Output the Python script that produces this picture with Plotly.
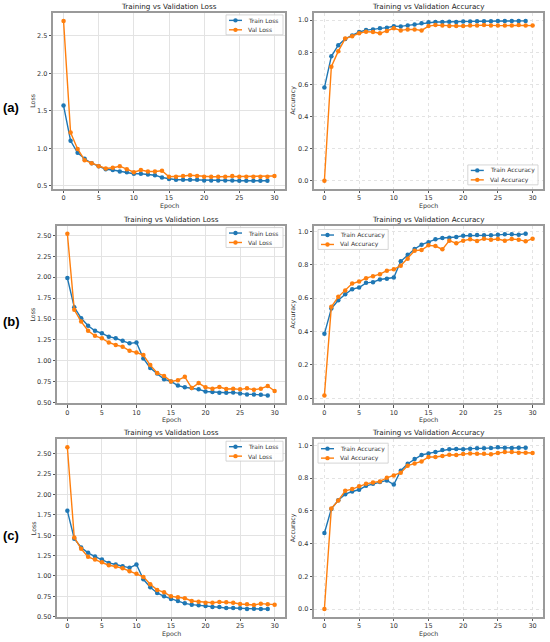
import plotly.graph_objects as go

# ---- data ----
train_epochs = list(range(30))
val_epochs = list(range(31))

train_loss_a = [1.57, 1.10, 0.94, 0.86, 0.80, 0.76, 0.72, 0.71, 0.69, 0.68, 0.66, 0.66, 0.65, 0.64, 0.61, 0.59,
                0.58, 0.58, 0.58, 0.58, 0.57, 0.57, 0.57, 0.57, 0.57, 0.565, 0.565, 0.565, 0.565, 0.565]
val_loss_a = [2.70, 1.21, 0.99, 0.84, 0.80, 0.76, 0.73, 0.74, 0.76, 0.72, 0.68, 0.71, 0.69, 0.69, 0.70, 0.62,
              0.62, 0.63, 0.64, 0.63, 0.62, 0.62, 0.62, 0.62, 0.63, 0.62, 0.62, 0.62, 0.62, 0.62, 0.63]
train_acc_a = [0.58, 0.775, 0.844, 0.883, 0.905, 0.926, 0.938, 0.942, 0.95, 0.953, 0.962, 0.961, 0.967, 0.972, 0.981,
               0.986, 0.988, 0.988, 0.99, 0.988, 0.992, 0.992, 0.993, 0.993, 0.993, 0.995, 0.995, 0.995, 0.995, 0.995]
val_acc_a = [0.0, 0.71, 0.807, 0.885, 0.90, 0.918, 0.928, 0.926, 0.918, 0.932, 0.949, 0.936, 0.942, 0.942, 0.936,
             0.963, 0.969, 0.967, 0.963, 0.963, 0.963, 0.967, 0.967, 0.969, 0.966, 0.966, 0.966, 0.967, 0.969,
             0.967, 0.966]

train_loss_b = [1.99, 1.64, 1.51, 1.42, 1.36, 1.33, 1.29, 1.27, 1.24, 1.21, 1.22, 1.03, 0.915, 0.85, 0.78, 0.755,
                0.705, 0.685, 0.675, 0.66, 0.635, 0.628, 0.62, 0.62, 0.624, 0.612, 0.60, 0.60, 0.596, 0.588]
val_loss_b = [2.52, 1.61, 1.47, 1.36, 1.30, 1.27, 1.22, 1.19, 1.17, 1.12, 1.10, 1.07, 0.95, 0.855, 0.82, 0.755,
              0.77, 0.81, 0.675, 0.735, 0.685, 0.668, 0.688, 0.664, 0.668, 0.66, 0.672, 0.656, 0.668, 0.70, 0.64]
train_acc_b = [0.385, 0.537, 0.587, 0.623, 0.653, 0.663, 0.691, 0.695, 0.711, 0.715, 0.723, 0.82, 0.86, 0.894, 0.92,
               0.934, 0.952, 0.96, 0.962, 0.966, 0.974, 0.976, 0.978, 0.976, 0.976, 0.98, 0.982, 0.982, 0.98, 0.986]
val_acc_b = [0.016, 0.547, 0.607, 0.645, 0.687, 0.699, 0.719, 0.731, 0.743, 0.764, 0.772, 0.794, 0.836, 0.884, 0.888,
             0.916, 0.912, 0.892, 0.944, 0.928, 0.944, 0.952, 0.942, 0.956, 0.95, 0.954, 0.944, 0.954, 0.95,
             0.94, 0.956]

train_loss_c = [1.80, 1.457, 1.35, 1.284, 1.239, 1.202, 1.161, 1.141, 1.12, 1.10, 1.141, 0.96, 0.861, 0.792, 0.75,
                0.718, 0.693, 0.664, 0.648, 0.64, 0.631, 0.619, 0.619, 0.607, 0.607, 0.603, 0.594, 0.599, 0.594, 0.594]
val_loss_c = [2.58, 1.473, 1.334, 1.235, 1.202, 1.17, 1.132, 1.116, 1.095, 1.059, 1.026, 0.989, 0.898, 0.829, 0.80,
              0.75, 0.738, 0.726, 0.693, 0.685, 0.672, 0.672, 0.681, 0.677, 0.672, 0.656, 0.652, 0.644, 0.66,
              0.652, 0.648]
train_acc_c = [0.465, 0.612, 0.665, 0.702, 0.718, 0.729, 0.753, 0.765, 0.776, 0.786, 0.761, 0.845, 0.888, 0.916,
               0.941, 0.951, 0.959, 0.971, 0.976, 0.978, 0.976, 0.98, 0.982, 0.982, 0.984, 0.988, 0.986, 0.984,
               0.986, 0.986]
val_acc_c = [0.0, 0.614, 0.663, 0.722, 0.733, 0.751, 0.765, 0.773, 0.78, 0.802, 0.816, 0.833, 0.876, 0.89, 0.902,
             0.929, 0.929, 0.935, 0.943, 0.941, 0.947, 0.951, 0.949, 0.949, 0.945, 0.953, 0.959, 0.959, 0.955,
             0.955, 0.953]

row_labels = ["(a)", "(b)", "(c)"]
loss_rows = [(train_loss_a, val_loss_a), (train_loss_b, val_loss_b), (train_loss_c, val_loss_c)]
acc_rows = [(train_acc_a, val_acc_a), (train_acc_b, val_acc_b), (train_acc_c, val_acc_c)]

W, H = 550, 642
blue = "#1f77b4"
orange = "#ff7f0e"
font = "DejaVu Sans"
txt = "#333333"

# pixel boxes of the panels (left, right) and (top, bottom)
row_px = [(13, 190), (227, 406), (442, 621)]
left_x = [(53, 285), (57, 285), (57, 285)]
right_x = (314, 543)


def px_x(v):
    return v / W


def px_y(v):
    return 1 - v / H


def pad_range(values, frac=0.05):
    lo, hi = min(values), max(values)
    d = (hi - lo) * frac
    return [lo - d, hi + d]


fig = go.Figure()
annotations = []
shapes = []
layout = {}


def add_text(text, x, y, size, angle=0, color=txt, family=font, xanchor="center"):
    annotations.append(dict(text=text, x=px_x(x), y=px_y(y), xref="paper", yref="paper",
                            xanchor=xanchor, yanchor="middle", showarrow=False, textangle=angle,
                            font=dict(family=family, size=size, color=color)))


# small matplotlib-like legend box built in pixel space
def add_legend(names, colors, left=None, right=None, top=None, bottom=None):
    text_w = max(len(n) for n in names) * 3.3
    w = 24 + text_w
    h = 20
    if left is None:
        left = right - w
    if top is None:
        top = bottom - h
    shapes.append(dict(type="rect", xref="paper", yref="paper",
                       x0=px_x(left), x1=px_x(left + w), y0=px_y(top + h), y1=px_y(top),
                       fillcolor="rgba(255,255,255,0.85)", line=dict(color="#cccccc", width=0.8)))
    for i, (nm, col) in enumerate(zip(names, colors)):
        yy = top + 5.5 + i * 9.5
        shapes.append(dict(type="line", xref="paper", yref="paper",
                           x0=px_x(left + 3), x1=px_x(left + 16), y0=px_y(yy), y1=px_y(yy),
                           line=dict(color=col, width=1.4)))
        shapes.append(dict(type="circle", xref="paper", yref="paper",
                           x0=px_x(left + 7.3), x1=px_x(left + 11.7), y0=px_y(yy + 2.2), y1=px_y(yy - 2.2),
                           fillcolor=col, line=dict(color=col, width=0)))
        add_text(nm, left + 20, yy, 6, xanchor="left")


for r in range(3):
    top, bot = row_px[r]
    panels = [
        ("loss", left_x[r], loss_rows[r], "Loss", "Training vs Validation Loss", ["Train Loss", "Val Loss"]),
        ("acc", right_x, acc_rows[r], "Accuracy", "Training vs Validation Accuracy",
         ["Train Accuracy", "Val Accuracy"]),
    ]
    for c, (kind, (x0, x1), (tr, va), ylab, title, names) in enumerate(panels):
        k = r * 2 + c + 1
        sx = "" if k == 1 else str(k)
        for ep, vals, col, nm in [(train_epochs, tr, blue, names[0]), (val_epochs, va, orange, names[1])]:
            fig.add_trace(go.Scatter(
                x=ep, y=vals, name=nm, mode="lines+markers",
                line=dict(color=col, width=1.4),
                marker=dict(color=col, size=4.5),
                xaxis="x" + sx, yaxis="y" + sx, showlegend=False,
            ))
        if kind == "loss":
            dtick = 0.5 if r == 0 else 0.25
            fmt = ".1f" if r == 0 else ".2f"
            griddash = "solid"
        else:
            dtick, fmt, griddash = 0.2, ".1f", "dot"
        common = dict(
            showline=True, mirror=True, linecolor="#9a9a9a", linewidth=1.5,
            ticks="outside", ticklen=2.5, tickcolor="#555555", tickwidth=0.8,
            showgrid=True, gridcolor="#e3e3e3", gridwidth=0.7, griddash=griddash,
            zeroline=False, tickfont=dict(family=font, size=6.5, color=txt),
        )
        layout["xaxis" + sx] = dict(
            domain=[px_x(x0), px_x(x1)], anchor="y" + sx,
            range=[-1.5, 31.5], tickvals=[0, 5, 10, 15, 20, 25, 30],
            ticklabelstandoff=-1, **common,
        )
        layout["yaxis" + sx] = dict(
            domain=[px_y(bot), px_y(top)], anchor="x" + sx,
            range=pad_range(tr + va), dtick=dtick, tickformat=fmt, **common,
        )
        cx = (x0 + x1) / 2
        add_text(title, cx, top - 6.5, 7.2, color="#222222")
        add_text("Epoch", cx, bot + 17, 6.3)
        add_text(ylab, 33 if kind == "loss" else 293, (top + bot) / 2, 6.3, angle=-90)

        if kind == "loss":
            add_legend(names, [blue, orange], right=x1 - 2, top=top + 2)
        elif r == 0:
            add_legend(names, [blue, orange], right=x1 - 5, bottom=bot - 4)
        else:
            add_legend(names, [blue, orange], left=x0 + 4, top=top + 4)

    add_text("<b>" + row_labels[r] + "</b>", 11, (top + bot) / 2 + 7, 13, color="black",
             family="Liberation Sans")

fig.update_layout(
    width=W, height=H, margin=dict(l=0, r=0, t=0, b=0),
    paper_bgcolor="white", plot_bgcolor="white",
    annotations=annotations, shapes=shapes, **layout,
)

# the page body has a default 8px margin; drop it so the figure fills the window
fig.write_html("out.html", config={"displayModeBar": False},
               post_script="document.body.style.margin = '0';")
